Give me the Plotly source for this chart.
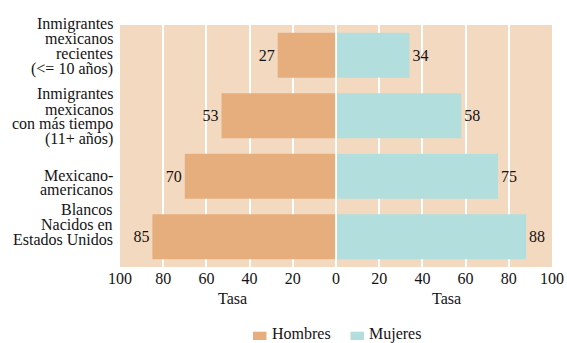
import plotly.graph_objects as go

# Data
categories = [
    "Inmigrantes<br>mexicanos<br>recientes<br>(<= 10 años)",
    "Inmigrantes<br>mexicanos<br>con más tiempo<br>(11+ años)",
    "Mexicano-<br>americanos",
    "Blancos<br>Nacidos en<br>Estados Unidos",
]
hombres = [27, 53, 70, 85]
mujeres = [34, 58, 75, 88]
series_names = ["Hombres", "Mujeres"]
tick_values = [-100, -80, -60, -40, -20, 0, 20, 40, 60, 80, 100]
tick_labels = ["100", "80", "60", "40", "20", "0", "20", "40", "60", "80", "100"]
axis_title = "Tasa"

# Styles
FONT = "Liberation Serif, Times New Roman, serif"
TEXT = "#141213"
BG = "#f3d9c0"
C_H = "#e6ae7c"
C_M = "#b2dedd"

W, H = 567, 343
ML, MR, MT, MB = 120, 15, 25, 76
PW, PH = W - ML - MR, H - MT - MB

fig = go.Figure()
fig.add_trace(go.Bar(
    y=categories, x=[-v for v in hombres], orientation="h",
    name=series_names[0], marker=dict(color=C_H, line=dict(width=0)),
    text=[str(v) for v in hombres], textposition="outside",
    textfont=dict(family=FONT, size=16, color=TEXT), cliponaxis=False,
))
fig.add_trace(go.Bar(
    y=categories, x=mujeres, orientation="h",
    name=series_names[1], marker=dict(color=C_M, line=dict(width=0)),
    text=[str(v) for v in mujeres], textposition="outside",
    textfont=dict(family=FONT, size=16, color=TEXT), cliponaxis=False,
))

# Category labels, one annotation per line for tight leading
first_line_offset = [-31.4, -21.4, -1.2, -27.2]
line_step = 14.9
annotations = []
for i, (cat, off) in enumerate(zip(categories, first_line_offset)):
    # paper coordinate of the category centre (reversed axis, range -0.5..3.5)
    yc = 1 - (i + 0.5) / len(categories)
    for k, line in enumerate(cat.split("<br>")):
        annotations.append(dict(
            xref="paper", x=0, xshift=-6, xanchor="right",
            yref="paper", y=yc, yanchor="middle",
            yshift=-(off + k * line_step),
            text=line, showarrow=False, borderpad=0,
            font=dict(family=FONT, size=16, color=TEXT),
        ))

# Axis titles under each half
for xpos in (-48, 51):
    annotations.append(dict(
        xref="x", x=xpos, yref="paper", y=0, yshift=-31, yanchor="middle",
        text=axis_title, showarrow=False,
        font=dict(family=FONT, size=16, color=TEXT),
    ))

# Legend drawn below the axes
shapes = []
legend_items = [(series_names[0], C_H, 253), (series_names[1], C_M, 350.5)]
for name, col, px in legend_items:
    x0 = (px - ML) / PW
    x1 = (px + 13.5 - ML) / PW
    y0 = (H - 340 - MB) / PH
    y1 = (H - 331.7 - MB) / PH
    shapes.append(dict(type="rect", xref="paper", yref="paper",
                       x0=x0, x1=x1, y0=y0, y1=y1,
                       fillcolor=col, line=dict(width=0), layer="above"))
    annotations.append(dict(
        xref="paper", x=x1, xshift=4, xanchor="left",
        yref="paper", y=(y0 + y1) / 2, yshift=2, yanchor="middle",
        text=name, showarrow=False, borderpad=0,
        font=dict(family=FONT, size=16, color=TEXT),
    ))

# White divider between the two halves
shapes.append(dict(type="line", xref="x", yref="paper", x0=0, x1=0, y0=0, y1=1,
                   line=dict(color="white", width=1.8), layer="above"))

fig.update_layout(
    width=W, height=H,
    margin=dict(l=ML, r=MR, t=MT, b=MB, autoexpand=False),
    paper_bgcolor="white", plot_bgcolor=BG,
    barmode="relative", bargap=0.256,
    showlegend=False,
    font=dict(family=FONT, size=16, color=TEXT),
    xaxis=dict(range=[-100, 100], autorange=False,
               tickvals=tick_values, ticktext=tick_labels,
               showgrid=True, gridcolor="white", gridwidth=1.5,
               zeroline=False, showline=False, ticks="", automargin=False,
               tickfont=dict(family=FONT, size=16, color=TEXT), fixedrange=True),
    yaxis=dict(range=[3.5, -0.5], autorange=False, showticklabels=False,
               showgrid=False, zeroline=False, ticks="", automargin=False,
               fixedrange=True),
    annotations=annotations, shapes=shapes,
)

fig.write_html("out.html")
